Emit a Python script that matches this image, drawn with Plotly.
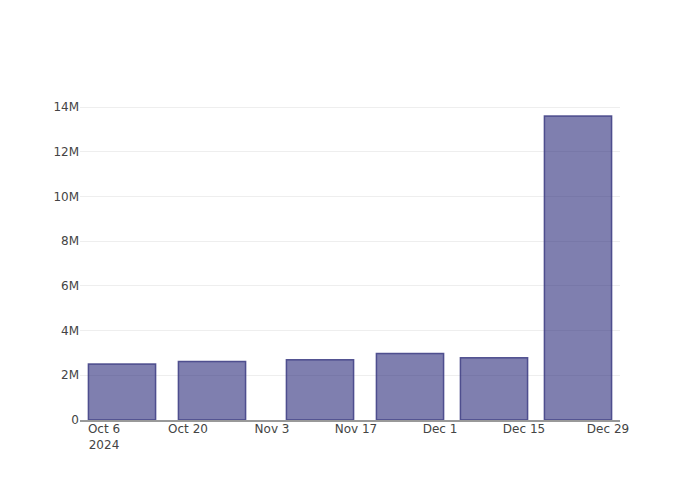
import plotly.graph_objects as go

dates = ["2024-10-09", "2024-10-24", "2024-11-11", "2024-11-26", "2024-12-10", "2024-12-24"]
values = [2.50e6, 2.62e6, 2.70e6, 2.98e6, 2.79e6, 13.6e6]

fig = go.Figure(
    go.Bar(
        x=dates,
        y=values,
        marker=dict(color="rgba(42,42,122,0.6)", line=dict(color="rgba(60,60,130,0.85)", width=1.5)),
    )
)

fig.update_layout(
    width=700,
    height=500,
    margin=dict(l=80, r=80, t=100, b=80),
    plot_bgcolor="white",
    paper_bgcolor="white",
    font=dict(family="DejaVu Sans, sans-serif", size=12, color="#444"),
    showlegend=False,
)
fig.update_xaxes(
    type="date",
    showgrid=False,
    showline=True,
    linecolor="#999",
    linewidth=2,
    dtick=14 * 24 * 3600 * 1000,
    tick0="2024-10-06",
    ticklabelstandoff=-3,
)
fig.update_yaxes(
    showgrid=True,
    gridcolor="#eeeeee",
    zeroline=False,
    tickformat="~s",
    dtick=2e6,
)

fig.write_html("out.html")
